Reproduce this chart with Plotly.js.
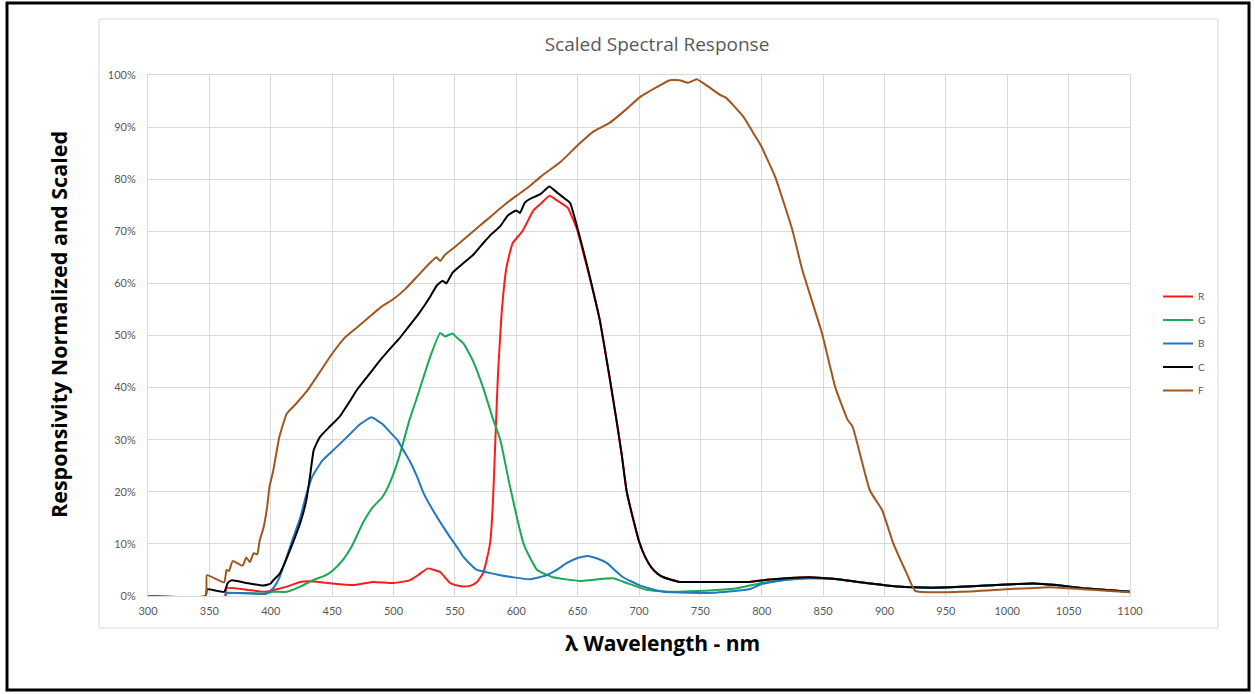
<!DOCTYPE html>
<html>
<head>
<meta charset="utf-8">
<script src="https://cdn.plot.ly/plotly-3.0.1.min.js"></script>
<style>
  html, body { margin: 0; padding: 0; background: #ffffff; }
  #chart { width: 1255px; height: 694px; }
</style>
</head>
<body>
<div id="chart"></div>
<script>
// ---- Data (wavelength in nm, responsivity in %) ----
const seriesNames = ["R", "G", "B", "C", "F"];

const wlR = [363,364,380,396,405,413,424,434,450,467,483,500,513,520,528,533,538,546,552,557,563,568,573,576,579,581,583,585,588,592,597,605,614,620,627,634,642,645,650,655,660,668,676,682,686,690,695,700,705,710,715,720,733,750,790,804,820,839,858,885,911,939,967,1008,1021,1040,1062,1100];
const valR = [0,1.5,1.2,0.8,1.3,1.8,2.7,2.8,2.4,2.1,2.7,2.5,3,4,5.3,5,4.6,2.5,2,1.8,2,2.7,4.4,7,10.7,18,30,42,54,63,67.7,70,74,75.3,76.8,75.8,74.5,73,70,65.5,61,53,42,33.2,27,20,15,10.5,7.5,5.5,4.3,3.6,2.7,2.7,2.7,3.1,3.4,3.6,3.3,2.5,1.8,1.6,1.8,2.3,2.4,2.1,1.5,0.8];

const wlG = [363,364,396,402,413,424,434,445,451,459,467,475,483,491,497,505,513,519,530,538,542,548,552,557,565,573,581,587,594,601,606,612,617,630,652,670,679,690,706,725,760,780,800,820,839,858,885,911,939,967,1008,1021,1040,1062,1100];
const valG = [0,0.5,0.5,0.8,0.8,1.8,3,4,5,7,10,14,17,19,21.7,27,33.8,38,46,50.5,49.8,50.4,49.5,48.5,45,40,34,30,22,14.6,10,7,5,3.6,2.9,3.3,3.4,2.5,1.2,0.8,1.1,1.5,2.5,3.1,3.4,3.3,2.5,1.8,1.6,1.8,2.3,2.4,2.1,1.5,0.8];

const wlB = [363,364,396,402,407,413,418,424,429,434,442,451,462,473,482,491,497,503,508,513,519,524,532,538,546,552,557,563,568,575,587,597,611,625,633,641,650,658,666,674,680,687,701,720,760,775,790,800,820,839,858,885,911,939,967,1008,1021,1040,1062,1100];
const valB = [0,0.6,0.4,1.5,3.5,7.5,11,15,19.5,23,26,28,30.5,33,34.3,33,31.5,30,28,26,23,20,16.5,14.2,11.3,9.3,7.5,6,5,4.6,4,3.6,3.2,4,5,6.3,7.3,7.7,7.2,6.3,5,3.6,2,0.8,0.6,0.9,1.3,2.3,3.1,3.4,3.3,2.5,1.8,1.6,1.8,2.3,2.4,2.1,1.5,0.8];

const wlC = [300,347,348,362,365,368,380,394,400,402,407,410,418,424,429,432,435,440,448,456,465,470,480,490,500,505,510,520,530,535,540,543,548,555,560,565,573,580,587,593,600,603,607,611,620,627,634,640,644,650,655,660,668,676,682,686,690,695,700,705,710,715,720,733,750,790,804,820,839,858,885,911,939,967,1008,1021,1040,1062,1100];
const valC = [0,0,1.3,0.8,2.5,3,2.5,2,2.4,3,4.2,5.6,10.2,14,18.4,23,28,30.5,32.5,34.4,37.6,39.5,42.5,45.5,48.2,49.5,51,54,57.5,59.5,60.5,60,62,63.5,64.5,65.5,67.7,69.5,71,73,74,73.5,75.5,76.2,77.2,78.6,77.3,76.2,75.4,70.5,66,61.2,53,42,33.2,27,20,15,10.5,7.5,5.5,4.3,3.6,2.7,2.7,2.7,3.1,3.4,3.6,3.3,2.5,1.8,1.6,1.8,2.3,2.4,2.1,1.5,0.8];

const wlF = [300,347,348,362,364,366,369,377,380,383,386,389,391,394,397,399,402,407,413,421,430,440,450,460,470,480,490,500,510,520,530,535,538,542,550,560,570,580,590,600,610,620,636,650,662,676,690,701,717,725,733,740,747,755,766,771,785,793,799,811,825,833,849,860,870,874,888,898,907,918,925,961,999,1035,1062,1100];
const valF = [0,0,4,2.6,5,4.8,6.7,5.8,7.4,6.5,8.2,8,10.7,13,17,21,24,30.5,35,37,39.5,43,46.5,49.5,51.5,53.5,55.5,57,59,61.5,64,65,64.3,65.5,67,69,71,73,75,76.8,78.5,80.5,83.3,86.5,89,90.8,93.5,95.8,98,99,99,98.5,99.2,98,96.2,95.6,92,88.9,86.6,80.4,70.2,62.6,50.5,40,33.8,32.5,20.3,16.5,10.2,4.4,1,0.8,1.3,1.7,1.3,0.7];

const xTicks = [300,350,400,450,500,550,600,650,700,750,800,850,900,950,1000,1050,1100];
const yTicks = [0,10,20,30,40,50,60,70,80,90,100];
const yTickText = yTicks.map(v => v + "%");

const colors = { R: "#ff1a1a", G: "#1aa854", B: "#1f78c1", C: "#000000", F: "#a0561e" };

const xs = { R: wlR, G: wlG, B: wlB, C: wlC, F: wlF };
const ys = { R: valR, G: valG, B: valB, C: valC, F: valF };

const traces = seriesNames.map(n => ({
  type: "scatter",
  mode: "lines",
  name: n,
  legendgroup: n,
  x: xs[n],
  y: ys[n],
  line: { color: colors[n], width: 2, shape: "spline", smoothing: 0.4 },
  hoverinfo: "x+y+name"
}));

const W = 1255, H = 694;
const L = 148, R = 1130, T = 75, B = 596;
const pw = R - L, ph = B - T;
const px = v => (v - L) / pw;
const py = v => (B - v) / ph;

const gridColor = "#d9d9d9";
const tickColor = "#595959";
const font = "Lato, 'Open Sans', 'DejaVu Sans', sans-serif";
const titleFont = "'Open Sans', Lato, 'DejaVu Sans', sans-serif";

const layout = {
  width: W, height: H,
  margin: { l: L, r: W - R, t: T, b: H - B, pad: 0 },
  paper_bgcolor: "#ffffff",
  plot_bgcolor: "#ffffff",
  font: { family: font, color: tickColor, size: 11 },
  title: {
    text: "Scaled Spectral Response",
    font: { family: titleFont, size: 19, color: tickColor },
    x: px(657), xref: "paper", xanchor: "center",
    y: 1 - 44 / H, yref: "container", yanchor: "middle"
  },
  xaxis: {
    range: [300, 1100],
    tickvals: xTicks,
    ticktext: xTicks.map(String),
    showgrid: true, gridcolor: gridColor, gridwidth: 1,
    showline: true, linecolor: gridColor, linewidth: 1, mirror: true,
    zeroline: false,
    ticks: "", ticklen: 0,
    ticklabelstandoff: 5,
    tickfont: { family: font, size: 11, color: tickColor },
    fixedrange: true
  },
  yaxis: {
    range: [0, 100],
    tickvals: yTicks,
    ticktext: yTickText,
    showgrid: true, gridcolor: gridColor, gridwidth: 1,
    showline: true, linecolor: gridColor, linewidth: 1, mirror: true,
    zeroline: false,
    ticks: "", ticklen: 0,
    ticklabelstandoff: 9,
    tickfont: { family: font, size: 11, color: tickColor },
    fixedrange: true
  },
  showlegend: true,
  legend: {
    x: px(1158), xanchor: "left",
    y: py(282), yanchor: "top",
    bgcolor: "rgba(0,0,0,0)",
    borderwidth: 0,
    font: { family: font, size: 10, color: tickColor },
    itemwidth: 30,
    traceorder: "grouped",
    tracegroupgap: 4.5
  },
  annotations: [
    {
      text: "<b>Responsivity Normalized and Scaled</b>",
      xref: "paper", yref: "paper",
      x: px(58), y: py(325),
      xanchor: "center", yanchor: "middle",
      textangle: -90, showarrow: false,
      font: { family: titleFont, size: 21.5, color: "#000000" }
    },
    {
      text: "<b>λ Wavelength - nm</b>",
      xref: "paper", yref: "paper",
      x: px(662), y: py(643),
      xanchor: "center", yanchor: "middle",
      showarrow: false,
      font: { family: titleFont, size: 21, color: "#000000" }
    }
  ],
  shapes: [
    {
      type: "rect", xref: "paper", yref: "paper",
      x0: px(99), x1: px(1218), y0: py(628), y1: py(19),
      line: { color: gridColor, width: 1 }, fillcolor: "rgba(0,0,0,0)", layer: "below"
    },
    {
      type: "rect", xref: "paper", yref: "paper",
      x0: px(7), x1: px(1249), y0: py(690), y1: py(3),
      line: { color: "#000000", width: 3 }, fillcolor: "rgba(0,0,0,0)", layer: "above"
    }
  ]
};

Plotly.newPlot("chart", traces, layout, { displayModeBar: false, staticPlot: true });
</script>
</body>
</html>
